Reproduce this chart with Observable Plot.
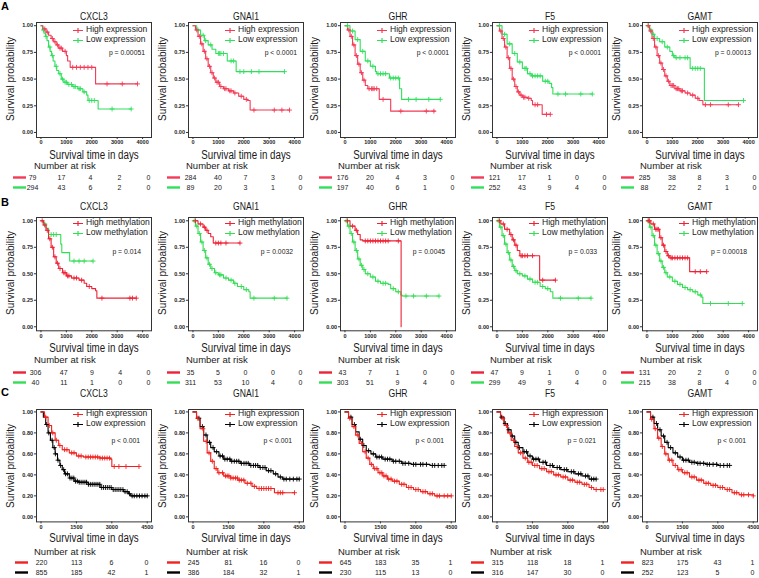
<!DOCTYPE html>
<html><head><meta charset="utf-8">
<script src="https://cdn.jsdelivr.net/npm/d3@7"></script>
<script src="https://cdn.jsdelivr.net/npm/@observablehq/plot@0.6"></script>
<style>
body{margin:0;background:#fff;}
#root{position:relative;width:759px;height:578px;overflow:hidden;font-family:"Liberation Sans",Arial,sans-serif;background:#fff;}
.t{position:absolute;white-space:nowrap;line-height:1;}
svg{overflow:visible;}
</style></head><body><div id="root"></div><script>
// ---------------- DATA ----------------
const genes = ["CXCL3","GNAI1","GHR","F5","GAMT"];
const rowLetters = ["A","B","C"];
const legendA = ["High expression","Low expression"];
const legendB = ["High methylation","Low methylation"];
const legendC = ["High expression","Low expression"];
const pA = ["p = 0.00051","p < 0.0001","p < 0.0001","p < 0.0001","p = 0.00013"];
const pB = ["p = 0.014","p = 0.0032","p = 0.0045","p = 0.033","p = 0.00018"];
const pC = ["p < 0.001","p < 0.001","p < 0.001","p = 0.021","p < 0.001"];
const timeTicksAB = [0,1000,2000,3000,4000];
const timeTicksC = [0,1500,3000,4500];
const survTicksAB = [0,0.25,0.5,0.75,1];
const survTicksC = [0,0.2,0.4,0.6,0.8,1];
const colorsA = ["#f43a55","#2fe05c"];
const colorsB = ["#ee2236","#35dd55"];
const colorsC = ["#f0221f","#000000"];

// Row A curves [time, survival] and censor times
const A_CXCL3_high = [[0,1],[80,0.97],[200,0.94],[300,0.91],[400,0.88],[500,0.85],[600,0.82],[700,0.79],[850,0.76],[1000,0.72],[1050,0.67],[1150,0.61],[2150,0.455],[3800,0.455]];
const A_CXCL3_high_c = [150,250,450,550,650,750,800,950,1250,1400,1550,1700,1850,2000,2600,3200,3800];
const A_CXCL3_low = [[0,1],[60,0.96],[120,0.93],[180,0.9],[240,0.86],[300,0.8],[360,0.76],[420,0.72],[480,0.67],[550,0.62],[620,0.58],[700,0.55],[800,0.5],[900,0.47],[1050,0.45],[1250,0.43],[1450,0.41],[1650,0.38],[1800,0.35],[1850,0.3],[2250,0.22],[3550,0.22]];
const A_CXCL3_low_c = [100,200,350,450,600,750,850,950,1000,1100,1200,1300,1350,1500,1550,1700,1900,2000,2100,2800,3550];
const A_GNAI1_high = [[0,1],[100,0.96],[200,0.9],[300,0.83],[400,0.76],[500,0.69],[600,0.62],[700,0.56],[800,0.51],[900,0.47],[1050,0.43],[1200,0.41],[1400,0.39],[1600,0.37],[1800,0.34],[2000,0.31],[2150,0.3],[2250,0.21],[3800,0.21]];
const A_GNAI1_high_c = [150,250,350,450,550,650,750,850,950,1000,1100,1250,1300,1450,1500,1650,1900,2100,2400,3200,3500,3800];
const A_GNAI1_low = [[0,1],[150,0.96],[300,0.91],[450,0.86],[600,0.82],[750,0.78],[900,0.74],[1350,0.67],[1700,0.57],[3600,0.57]];
const A_GNAI1_low_c = [200,400,500,700,1000,1050,1100,1200,1500,1600,1850,2000,2300,2600,3600];
const A_GHR_high = [[0,1],[100,0.96],[200,0.9],[300,0.82],[400,0.72],[500,0.64],[600,0.56],[700,0.49],[800,0.44],[900,0.41],[1350,0.31],[1800,0.2],[3550,0.2]];
const A_GHR_high_c = [150,250,350,450,550,650,750,950,1050,1100,1150,1250,1500,2200,3200,3500];
const A_GHR_low = [[0,1],[200,0.95],[400,0.87],[600,0.76],[800,0.67],[1000,0.62],[1200,0.57],[1250,0.55],[1750,0.51],[2150,0.41],[2230,0.31],[3750,0.31]];
const A_GHR_low_c = [100,300,500,700,900,1100,1300,1400,1500,1600,1800,1900,2000,2100,2500,2800,3300,3750];
const A_F5_high = [[0,1],[100,0.95],[200,0.88],[300,0.8],[400,0.7],[500,0.6],[600,0.5],[700,0.43],[800,0.38],[900,0.35],[1000,0.33],[1200,0.32],[1350,0.3],[1400,0.26],[1780,0.17],[2100,0.17]];
const A_F5_high_c = [150,250,350,450,550,650,750,850,950,1050,1100,1250,1500,1600,1950,2100];
const A_F5_low = [[0,1],[200,0.92],[400,0.83],[600,0.74],[800,0.66],[1000,0.6],[1200,0.55],[1350,0.53],[1800,0.48],[2050,0.46],[2150,0.42],[2200,0.36],[3750,0.36]];
const A_F5_low_c = [100,300,500,700,900,1100,1150,1300,1400,1500,1600,1700,1900,2000,2400,2700,3300,3750];
const A_GAMT_high = [[0,1],[100,0.95],[200,0.88],[300,0.8],[400,0.72],[500,0.65],[600,0.59],[700,0.53],[800,0.48],[900,0.44],[1100,0.41],[1300,0.39],[1500,0.37],[1700,0.35],[1900,0.32],[2050,0.3],[2200,0.26],[3600,0.26]];
const A_GAMT_high_c = [50,150,250,350,450,550,650,750,850,950,1000,1050,1150,1200,1250,1350,1400,1600,1800,2000,2300,2500,3200,3600];
const A_GAMT_low = [[0,1],[100,0.96],[200,0.92],[300,0.88],[500,0.85],[700,0.8],[900,0.76],[1000,0.72],[1100,0.7],[1700,0.6],[2260,0.3],[3800,0.3]];
const A_GAMT_low_c = [50,150,250,400,600,800,1050,1150,1300,1500,1600,1800,1900,2000,2100,3800];

// Row B
const B_CXCL3_high = [[0,1],[100,0.96],[200,0.91],[300,0.83],[400,0.75],[500,0.66],[600,0.6],[700,0.55],[850,0.51],[1000,0.48],[1200,0.46],[1500,0.44],[1700,0.41],[1800,0.38],[2000,0.36],[2150,0.34],[2200,0.27],[3750,0.27]];
const B_CXCL3_high_c = [50,150,250,350,450,550,650,750,900,950,1050,1100,1300,1400,1600,1900,2400,3500,3600,3750];
const B_CXCL3_low = [[0,1],[100,0.97],[200,0.93],[300,0.87],[780,0.78],[820,0.7],[1130,0.62],[2050,0.62]];
const B_CXCL3_low_c = [150,400,500,600,1300,1500,1700,2050];
const B_GNAI1_high = [[0,1],[200,0.97],[400,0.94],[500,0.91],[600,0.88],[700,0.85],[800,0.79],[1850,0.79]];
const B_GNAI1_high_c = [100,300,450,550,900,1000,1100,1300,1850];
const B_GNAI1_low = [[0,1],[100,0.95],[200,0.88],[300,0.8],[400,0.72],[500,0.65],[600,0.59],[700,0.55],[850,0.51],[1000,0.49],[1200,0.46],[1400,0.44],[1600,0.41],[1750,0.38],[2000,0.35],[2200,0.33],[2250,0.27],[3700,0.27]];
const B_GNAI1_low_c = [50,150,250,350,450,550,650,750,900,1050,1100,1300,1500,1650,1900,2100,2400,3200,3700];
const B_GHR_high = [[0,1],[200,0.95],[400,0.91],[500,0.87],[600,0.82],[700,0.81],[2200,0.81],[2210,0]];
const B_GHR_high_c = [100,300,450,800,900,1000,1100,1200,1300,1400,1500,1600,1700,2100];
const B_GHR_low = [[0,1],[100,0.95],[200,0.88],[300,0.8],[400,0.72],[500,0.64],[600,0.58],[700,0.54],[800,0.5],[1000,0.47],[1200,0.43],[1400,0.41],[1700,0.4],[1800,0.36],[2000,0.33],[2200,0.3],[2250,0.29],[3700,0.29]];
const B_GHR_low_c = [50,150,250,350,450,550,650,750,900,1100,1300,1500,1600,1900,2100,2400,2700,3200,3700];
const B_F5_high = [[0,1],[150,0.97],[300,0.92],[500,0.87],[600,0.82],[700,0.77],[800,0.72],[900,0.67],[1680,0.44],[2300,0.44]];
const B_F5_high_c = [100,250,400,550,650,750,950,1000,1100,1200,1400,1800,2300];
const B_F5_low = [[0,1],[100,0.94],[200,0.86],[300,0.78],[400,0.7],[500,0.63],[600,0.57],[700,0.53],[800,0.5],[1000,0.48],[1200,0.45],[1400,0.42],[1700,0.38],[1900,0.36],[2100,0.33],[2200,0.27],[3700,0.27]];
const B_F5_low_c = [50,150,250,350,450,550,650,750,900,1100,1300,1500,1600,1800,2000,2500,3200,3700];
const B_GAMT_high = [[0,1],[150,0.97],[300,0.92],[500,0.84],[600,0.77],[700,0.71],[800,0.67],[900,0.65],[1680,0.52],[2350,0.52]];
const B_GAMT_high_c = [50,100,250,350,400,450,550,650,750,850,950,1000,1100,1200,1300,1400,1500,1600,1900,2100,2350];
const B_GAMT_low = [[0,1],[100,0.94],[200,0.86],[300,0.77],[400,0.69],[500,0.62],[600,0.56],[700,0.51],[800,0.47],[1000,0.43],[1200,0.4],[1400,0.37],[1600,0.35],[1800,0.33],[2000,0.3],[2150,0.28],[2200,0.22],[3750,0.22]];
const B_GAMT_low_c = [50,150,250,350,450,550,650,750,900,1100,1300,1500,1700,1900,2100,2500,3200,3750];

// Row C
const C_CXCL3_high = [[0,1],[150,0.95],[300,0.87],[450,0.8],[600,0.73],[750,0.68],[900,0.64],[1200,0.61],[1500,0.58],[1800,0.57],[2500,0.56],[2950,0.55],[3000,0.48],[4150,0.48]];
const C_CXCL3_high_c = [200,350,500,650,800,1000,1100,1300,1400,1600,1700,1900,2000,2100,2200,2300,2400,2500,2600,2700,2800,2900,3100,3300,3600,4150];
const C_CXCL3_low = [[0,1],[100,0.95],[200,0.88],[300,0.8],[400,0.73],[500,0.66],[600,0.6],[700,0.54],[800,0.49],[900,0.45],[1000,0.41],[1200,0.37],[1400,0.34],[1600,0.33],[2000,0.31],[2500,0.28],[3000,0.26],[3500,0.24],[3700,0.22],[3800,0.2],[4500,0.2]];
const C_CXCL3_low_c = [240,330,470,560,610,720,830,960,1040,1120,1230,1310,1390,1460,1540,1620,1700,1780,1860,1930,2010,2090,2170,2250,2330,2410,2490,2570,2650,2730,2810,2890,2970,3060,3140,3220,3300,3380,3470,3560,3650,3750,3860,3950,4060,4170,4280,4400,4500];
const C_GNAI1_high = [[0,1],[150,0.94],[300,0.84],[450,0.72],[600,0.61],[750,0.53],[900,0.46],[1050,0.42],[1300,0.39],[1600,0.37],[1900,0.35],[2200,0.32],[2500,0.29],[2700,0.27],[3400,0.27],[3450,0.23],[4300,0.23]];
const C_GNAI1_high_c = [200,420,560,680,820,980,1100,1250,1380,1450,1520,1600,1700,1800,1880,1960,2050,2150,2300,2450,2600,2800,2900,3000,3100,3200,3300,3600,3700,3800,4300];
const C_GNAI1_low = [[0,1],[150,0.94],[300,0.86],[450,0.78],[600,0.71],[750,0.66],[900,0.62],[1100,0.58],[1300,0.55],[1600,0.53],[2000,0.51],[2400,0.49],[2800,0.47],[3100,0.44],[3400,0.41],[3600,0.38],[3800,0.36],[4500,0.36]];
const C_GNAI1_low_c = [250,400,550,700,850,1000,1150,1250,1350,1450,1560,1640,1750,1850,1940,2050,2160,2250,2340,2450,2560,2650,2740,2850,2960,3050,3200,3300,3500,3700,3850,3950,4100,4250,4400,4500];
const C_GHR_high = [[0,1],[150,0.94],[300,0.86],[450,0.78],[600,0.7],[750,0.62],[900,0.56],[1050,0.5],[1200,0.46],[1400,0.42],[1600,0.39],[1800,0.36],[2000,0.34],[2300,0.31],[2600,0.28],[2900,0.26],[3200,0.24],[3500,0.22],[3800,0.2],[4500,0.2]];
const C_GHR_high_c = [200,380,520,700,850,980,1120,1260,1350,1480,1560,1650,1740,1850,1950,2100,2200,2400,2500,2700,2800,3000,3100,3300,3400,3600,3700,3900,4000,4200,4350,4500];
const C_GHR_low = [[0,1],[150,0.95],[300,0.88],[450,0.81],[600,0.74],[750,0.68],[900,0.63],[1100,0.6],[1300,0.57],[1600,0.55],[2000,0.53],[2400,0.51],[2800,0.5],[3600,0.49],[4200,0.49]];
const C_GHR_low_c = [250,400,650,800,1000,1200,1350,1450,1550,1700,1800,1900,2050,2150,2300,2450,2550,2700,2900,3000,3200,3300,3450,3700,3800,3950,4100,4200];
const C_F5_high = [[0,1],[150,0.94],[300,0.87],[450,0.8],[600,0.73],[750,0.67],[900,0.61],[1100,0.56],[1300,0.52],[1500,0.49],[1800,0.46],[2100,0.43],[2400,0.4],[2700,0.38],[3000,0.35],[3300,0.33],[3600,0.31],[3900,0.28],[4100,0.26],[4500,0.26]];
const C_F5_high_c = [250,400,550,700,850,1000,1200,1350,1450,1600,1700,1900,2000,2200,2300,2500,2600,2800,2900,3100,3200,3400,3500,3700,3800,4000,4200,4400,4500];
const C_F5_low = [[0,1],[150,0.95],[300,0.89],[450,0.83],[600,0.77],[750,0.71],[900,0.66],[1100,0.62],[1300,0.58],[1500,0.55],[1800,0.52],[2100,0.49],[2400,0.47],[2700,0.45],[3000,0.43],[3300,0.41],[3600,0.39],[3900,0.36],[4200,0.36]];
const C_F5_low_c = [200,350,500,650,800,950,1150,1250,1400,1550,1650,1750,1950,2050,2250,2350,2550,2650,2850,2950,3150,3250,3450,3550,3750,3850,4000,4100,4200];
const C_GAMT_high = [[0,1],[150,0.93],[300,0.84],[450,0.75],[600,0.67],[750,0.6],[900,0.54],[1100,0.49],[1300,0.45],[1500,0.42],[1800,0.38],[2100,0.35],[2400,0.32],[2700,0.3],[3000,0.28],[3300,0.26],[3600,0.23],[3900,0.21],[4500,0.2]];
const C_GAMT_high_c = [200,350,500,650,800,950,1050,1200,1350,1450,1600,1700,1900,2000,2200,2300,2500,2600,2800,2900,3100,3200,3400,3500,3700,3800,4000,4100,4300,4500];
const C_GAMT_low = [[0,1],[150,0.95],[300,0.89],[450,0.83],[600,0.77],[750,0.71],[900,0.66],[1100,0.61],[1300,0.57],[1500,0.54],[1800,0.52],[2100,0.51],[2500,0.5],[3000,0.49],[3500,0.49]];
const C_GAMT_low_c = [250,400,550,700,850,1000,1200,1400,1550,1650,1750,1900,2000,2150,2250,2400,2550,2650,2800,2950,3100,3250,3400,3500];

// Numbers at risk [high, low]
const risk_A_CXCL3 = [[79,17,4,2,0],[294,43,6,2,0]];
const risk_A_GNAI1 = [[284,40,7,3,0],[89,20,3,1,0]];
const risk_A_GHR = [[176,20,4,3,0],[197,40,6,1,0]];
const risk_A_F5 = [[121,17,1,0,0],[252,43,9,4,0]];
const risk_A_GAMT = [[285,38,8,3,0],[88,22,2,1,0]];
const risk_B_CXCL3 = [[306,47,9,4,0],[40,11,1,0,0]];
const risk_B_GNAI1 = [[35,5,0,0,0],[311,53,10,4,0]];
const risk_B_GHR = [[43,7,1,0,0],[303,51,9,4,0]];
const risk_B_F5 = [[47,9,1,0,0],[299,49,9,4,0]];
const risk_B_GAMT = [[131,20,2,0,0],[215,38,8,4,0]];
const risk_C_CXCL3 = [[220,113,6,0],[855,185,42,1]];
const risk_C_GNAI1 = [[245,81,16,0],[386,184,32,1]];
const risk_C_GHR = [[645,183,35,1],[230,115,13,0]];
const risk_C_F5 = [[315,118,18,1],[316,147,30,0]];
const risk_C_GAMT = [[823,175,43,1],[252,123,5,0]];

// ---------------- LAYOUT ----------------
const root = document.getElementById("root");
const frameLeft = [36,188,340,492,642];
const frameW = 115;
const rowGeo = [
  {top:21.7,bot:136.7,title:15.5,leg1:30,leg2:40,p:52.7,pR:109,xlab:154.5,nar:165.7,r1:176.7,r2:187.3,letterY:6,first:-4,
   yDom:[-0.047,1.03],xDom:[-175,4350],xT:timeTicksAB,yT:survTicksAB,leg:legendA,pv:pA,col:colorsA,riskMax:4000},
  {top:216.7,bot:330,title:205.5,leg1:223.3,leg2:233.3,p:251.7,pR:105,xlab:347.5,nar:360,r1:372,r2:382.3,letterY:202,first:-1,
   yDom:[-0.038,1.031],xDom:[-175,4350],xT:timeTicksAB,yT:survTicksAB,leg:legendB,pv:pB,col:colorsB,riskMax:4000},
  {top:409.3,bot:521.7,title:392.5,leg1:414.3,leg2:424.3,p:441,pR:104,xlab:538.3,nar:551.7,r1:562.3,r2:572.3,letterY:392,first:5,
   yDom:[-0.048,1.023],xDom:[-190,4680],xT:timeTicksC,yT:survTicksC,leg:legendC,pv:pC,col:colorsC,riskMax:4500}
];
const curves = [
  [[A_CXCL3_high,A_CXCL3_high_c,A_CXCL3_low,A_CXCL3_low_c,risk_A_CXCL3],
   [A_GNAI1_high,A_GNAI1_high_c,A_GNAI1_low,A_GNAI1_low_c,risk_A_GNAI1],
   [A_GHR_high,A_GHR_high_c,A_GHR_low,A_GHR_low_c,risk_A_GHR],
   [A_F5_high,A_F5_high_c,A_F5_low,A_F5_low_c,risk_A_F5],
   [A_GAMT_high,A_GAMT_high_c,A_GAMT_low,A_GAMT_low_c,risk_A_GAMT]],
  [[B_CXCL3_high,B_CXCL3_high_c,B_CXCL3_low,B_CXCL3_low_c,risk_B_CXCL3],
   [B_GNAI1_high,B_GNAI1_high_c,B_GNAI1_low,B_GNAI1_low_c,risk_B_GNAI1],
   [B_GHR_high,B_GHR_high_c,B_GHR_low,B_GHR_low_c,risk_B_GHR],
   [B_F5_high,B_F5_high_c,B_F5_low,B_F5_low_c,risk_B_F5],
   [B_GAMT_high,B_GAMT_high_c,B_GAMT_low,B_GAMT_low_c,risk_B_GAMT]],
  [[C_CXCL3_high,C_CXCL3_high_c,C_CXCL3_low,C_CXCL3_low_c,risk_C_CXCL3],
   [C_GNAI1_high,C_GNAI1_high_c,C_GNAI1_low,C_GNAI1_low_c,risk_C_GNAI1],
   [C_GHR_high,C_GHR_high_c,C_GHR_low,C_GHR_low_c,risk_C_GHR],
   [C_F5_high,C_F5_high_c,C_F5_low,C_F5_low_c,risk_C_F5],
   [C_GAMT_high,C_GAMT_high_c,C_GAMT_low,C_GAMT_low_c,risk_C_GAMT]]
];

function txt(s, x, y, o = {}) {
  const d = document.createElement("div");
  d.className = "t"; d.textContent = s;
  const size = o.size || 9, anchor = o.anchor || "start", sx = o.sx || 1, sy = o.sy || 1;
  d.style.fontSize = size + "px"; d.style.left = x + "px"; d.style.top = y + "px";
  if (o.weight) d.style.fontWeight = o.weight;
  d.style.color = o.color || "#1a1a1a";
  if (o.rotate) {
    d.style.transformOrigin = "center center";
    d.style.transform = `translate(-50%,-50%) rotate(${o.rotate}deg) scale(${sx},${sy})`;
  } else {
    const tx = anchor === "start" ? "0" : anchor === "middle" ? "-50%" : "-100%";
    const ox = anchor === "start" ? "left" : anchor === "middle" ? "center" : "right";
    d.style.transformOrigin = ox + " center";
    d.style.transform = `translate(${tx},-50%) scale(${sx},${sy})`;
  }
  root.appendChild(d);
}
function survAt(curve, t) {
  let s = curve[0][1];
  for (const [tt, ss] of curve) if (tt <= t) s = ss;
  return s;
}
function legendGlyph(x, y, color) {
  const ns = "http://www.w3.org/2000/svg";
  const s = document.createElementNS(ns, "svg");
  s.setAttribute("width", 12); s.setAttribute("height", 7);
  s.style.position = "absolute"; s.style.left = (x - 1) + "px"; s.style.top = (y - 3.5) + "px";
  const p = document.createElementNS(ns, "path");
  p.setAttribute("d", "M1,3.5H11M6,1V6");
  p.setAttribute("stroke", color); p.setAttribute("stroke-width", "1.2"); p.setAttribute("fill", "none");
  s.appendChild(p); root.appendChild(s);
}

rowGeo.forEach((g, r) => {
  txt(rowLetters[r], 1, g.letterY, {size: 11, weight: "bold", color: "#000"});
  genes.forEach((gene, c) => {
    const fl = frameLeft[c];
    const [hi, hiC, lo, loC, risk] = curves[r][c];
    const [colH, colL] = g.col;
    const mL = 24, mR = 3, mT = 3, mB = 12;
    const fh = g.bot - g.top;
    const censH = hiC.map(t => ({t, s: survAt(hi, t)}));
    const censL = loC.map(t => ({t, s: survAt(lo, t)}));
    const svg = Plot.plot({
      width: frameW + mL + mR, height: fh + mT + mB,
      marginLeft: mL, marginRight: mR, marginTop: mT, marginBottom: mB,
      style: {background: "transparent", fontFamily: "Liberation Sans, Arial, sans-serif", color: "#222", overflow: "visible"},
      x: {domain: g.xDom}, y: {domain: g.yDom},
      marks: [
        Plot.line(lo, {x: d => d[0], y: d => d[1], curve: "step-after", stroke: colL, strokeWidth: 1.1}),
        Plot.line(hi, {x: d => d[0], y: d => d[1], curve: "step-after", stroke: colH, strokeWidth: 1.1}),
        Plot.dot(censL, {x: "t", y: "s", symbol: "plus", r: 1.7, stroke: colL, fill: "none", strokeWidth: 0.9}),
        Plot.dot(censH, {x: "t", y: "s", symbol: "plus", r: 1.7, stroke: colH, fill: "none", strokeWidth: 0.9}),
        Plot.frame({stroke: "#333", strokeWidth: 1}),
        Plot.axisX(g.xT, {tickSize: 2, tickPadding: 1, fontSize: 5.5, fontWeight: "bold", tickFormat: d3.format("d"), label: null, stroke: "#333", fill: "#222"}),
        Plot.axisY(g.yT, {tickSize: 2, tickPadding: 1.5, fontSize: 5.5, fontWeight: "bold", tickFormat: d3.format(".2f"), label: null, stroke: "#333", fill: "#222"})
      ]
    });
    svg.style.position = "absolute";
    svg.style.left = (fl - mL) + "px";
    svg.style.top = (g.top - mT) + "px";
    root.appendChild(svg);

    // texts
    const cx = fl + frameW / 2;
    txt(gene, cx, g.title, {size: 10.5, anchor: "middle", sx: 0.82});
    txt("Survival probability", fl - 25, (g.top + g.bot) / 2, {size: 10, rotate: -90});
    txt("Survival time in days", cx, g.xlab, {size: 12.5, anchor: "middle", sx: 0.78});
    legendGlyph(fl + 37, g.leg1, colH);
    legendGlyph(fl + 37, g.leg2, colL);
    txt(g.leg[0], fl + 49.5, g.leg1, {size: 9.3, sx: 0.92});
    txt(g.leg[1], fl + 49.5, g.leg2, {size: 9.3, sx: 0.92});
    txt(g.pv[c], fl + g.pR, g.p, {size: 6.8, anchor: "end"});
    txt("Number at risk", fl - 2, g.nar, {size: 9.5});

    // risk table
    const ticks = g.xT;
    const rows = [];
    ticks.forEach((t, i) => { rows.push({t, g: "high", n: risk[0][i]}); rows.push({t, g: "low", n: risk[1][i]}); });
    const rW = 160, offX = fl - 30, offY = g.r1 - 5;
    const c0 = (r < 2 ? (c === 0 ? g.first : 2) : 5), c1 = (r < 2 ? 112 : 110);
    const barL = (c === 0 && r < 2) ? 7 : 9;
    const rsvg = Plot.plot({
      width: rW, height: (g.r2 - g.r1) + 10, margin: 0,
      style: {background: "transparent", fontFamily: "Liberation Sans, Arial, sans-serif", overflow: "visible"},
      x: {domain: [0, g.riskMax], range: [30 + c0, 30 + c1], axis: null},
      y: {type: "point", domain: ["high", "low"], range: [5, 5 + (g.r2 - g.r1)], padding: 0, axis: null},
      marks: [
        Plot.ruleY(["high"], {y: d => d, stroke: colH, strokeWidth: 2.4, insetLeft: barL, insetRight: rW - barL - 13}),
        Plot.ruleY(["low"], {y: d => d, stroke: colL, strokeWidth: 2.4, insetLeft: barL, insetRight: rW - barL - 13}),
        Plot.text(rows, {x: "t", y: "g", text: "n", fontSize: 7, fill: "#1a1a1a"})
      ]
    });
    rsvg.style.position = "absolute";
    rsvg.style.left = offX + "px";
    rsvg.style.top = offY + "px";
    root.appendChild(rsvg);
  });
});
</script></body></html>
